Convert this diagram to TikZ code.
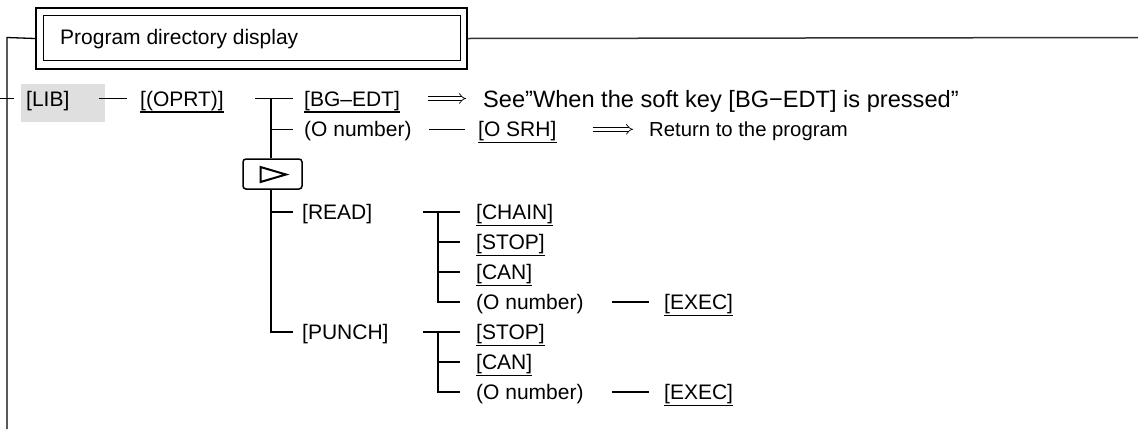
\documentclass[tikz,border=0pt]{standalone}
\usepackage{fontspec}
\setmainfont{Liberation Sans}
\usetikzlibrary{arrows.meta}
\begin{document}
\begin{tikzpicture}[x=1pt,y=-1pt,
  lbl/.style={anchor=base west, inner sep=0pt, font=\fontsize{21}{25}\selectfont},
  big/.style={lbl, font=\fontsize{23.6}{28}\selectfont},
  mid/.style={lbl, font=\fontsize{20.3}{24}\selectfont},
  ln/.style={line width=1.3pt, line cap=butt},
  ul/.style={line width=1.1pt},
  dbl/.style={double, double distance=3pt, line width=0.7pt, -{Implies[length=6pt]}},
  nextkey/.style={draw, rounded corners=3pt, line width=1.5pt, minimum width=59pt, minimum height=30pt, inner sep=0pt},
]
\useasboundingbox (0,0) rectangle (1138,429);

% title block
\node[draw, line width=2pt, minimum width=431pt, minimum height=61pt, anchor=north west, inner sep=0pt] (tout) at (35,7) {};
\node[draw, line width=0.9pt, minimum width=417pt, minimum height=45pt, anchor=north west, inner sep=0pt] (tin) at (43,15) {};
\node[lbl] (title) at (60,44.5) {Program directory display};
\coordinate (lc) at (7,37.5);
\coordinate (lbot) at (7,429);
\coordinate (rend) at (1138,37.5);
\draw[line width=1.5pt, black!80] (tout.east) -- (rend);
\draw[ln] (tout.west) -- (lc) -- (lbot);

% LIB row
\fill[gray!25] (21,84) rectangle (105,122);
\coordinate (stub0) at (0,98.5);
\coordinate (stub1) at (14,98.5);
\draw[ln] (stub0) -- (stub1);
\node[lbl] (lib) at (26,106) {[LIB]};
\node[lbl] (oprt) at (140,106) {[(OPRT)]};
\draw[ul] ([yshift=-6pt]oprt.base west) -- ([yshift=-6pt]oprt.base east);
\coordinate (l0) at (99,98.5);
\coordinate (l1) at (127,98.5);
\draw[ln] (l0) -- (l1);

\node[lbl] (bg) at (304,106) {[BG–EDT]};
\draw[ul] ([yshift=-6pt]bg.base west) -- ([yshift=-6pt]bg.base east);
\node[big] (see) at (483,107) {See"When the soft key [BG−EDT] is pressed”};
\coordinate (a0) at (428,98.5);
\coordinate (a1) at (466,98.5);
\draw[dbl] (a0) -- (a1);

% main trunk
\coordinate (t0) at (255,98.5);
\coordinate (t1) at (271,98.5);
\coordinate (tb) at (293,98.5);
\draw[ln] (t0) -- (tb);

\node[lbl] (on1) at (304,136.8) {(O number)};
\node[lbl] (osrh) at (478,136.8) {[O SRH]};
\draw[ul] ([yshift=-6pt]osrh.base west) -- ([yshift=-6pt]osrh.base east);
\node[mid] (ret) at (649,136.5) {Return to the program};
\coordinate (d0) at (429,129.3);
\coordinate (d1) at (465,129.3);
\draw[ln] (d0) -- (d1);
\coordinate (b0) at (593,129.3);
\coordinate (b1) at (633,129.3);
\draw[dbl] (b0) -- (b1);
\coordinate (t2) at (271,129.3);
\coordinate (t2b) at (293,129.3);
\draw[ln] (t2) -- (t2b);

\node[nextkey] (nx) at (272.5,174) {};
\draw[line width=2pt, line join=miter] (260.5,167) -- (260.5,182) -- (286,174.5) -- cycle;
\draw[ln] (t1) -- (t1 |- nx.north);

% READ
\node[lbl] (read) at (302,219.5) {[READ]};
\coordinate (t3) at (271,212);
\coordinate (t3b) at (293,212);
\coordinate (t4) at (271,332);
\coordinate (t4b) at (293,332);
\draw[ln] (t1 |- nx.south) -- (t4) -- (t4b);
\draw[ln] (t3) -- (t3b);

\coordinate (r0) at (423,212);
\coordinate (r1) at (438,212);
\coordinate (re) at (460,212);
\draw[ln] (r0) -- (re);
\node[lbl] (chain) at (476,219.5) {[CHAIN]};
\node[lbl] (stop1) at (476,249.5) {[STOP]};
\node[lbl] (can1) at (476,279.5) {[CAN]};
\node[lbl] (on2) at (476,309.5) {(O number)};
\node[lbl] (ex1) at (664,309.5) {[EXEC]};
\foreach \n in {chain,stop1,can1,ex1}
  \draw[ul] ([yshift=-6pt]\n.base west) -- ([yshift=-6pt]\n.base east);
\coordinate (r2) at (438,242);
\coordinate (r3) at (438,272);
\coordinate (r4) at (438,302);
\coordinate (r2e) at (460,242);
\coordinate (r3e) at (460,272);
\coordinate (r4e) at (460,302);
\draw[ln] (r1) -- (r4) -- (r4e);
\draw[ln] (r2) -- (r2e);
\draw[ln] (r3) -- (r3e);
\draw[ln] ([xshift=-52pt,yshift=7.5pt]ex1.base west) -- ([xshift=-15pt,yshift=7.5pt]ex1.base west);

% PUNCH
\node[lbl] (punch) at (302,339.5) {[PUNCH]};
\coordinate (p0) at (423,332);
\coordinate (p1) at (438,332);
\coordinate (pe) at (460,332);
\draw[ln] (p0) -- (pe);
\node[lbl] (stop2) at (476,339.5) {[STOP]};
\node[lbl] (can2) at (476,369.5) {[CAN]};
\node[lbl] (on3) at (476,399.5) {(O number)};
\node[lbl] (ex2) at (664,399.5) {[EXEC]};
\foreach \n in {stop2,can2,ex2}
  \draw[ul] ([yshift=-6pt]\n.base west) -- ([yshift=-6pt]\n.base east);
\coordinate (p2) at (438,362);
\coordinate (p3) at (438,392);
\coordinate (p2e) at (460,362);
\coordinate (p3e) at (460,392);
\draw[ln] (p1) -- (p3) -- (p3e);
\draw[ln] (p2) -- (p2e);
\draw[ln] ([xshift=-52pt,yshift=7.5pt]ex2.base west) -- ([xshift=-15pt,yshift=7.5pt]ex2.base west);
\end{tikzpicture}
\end{document}
